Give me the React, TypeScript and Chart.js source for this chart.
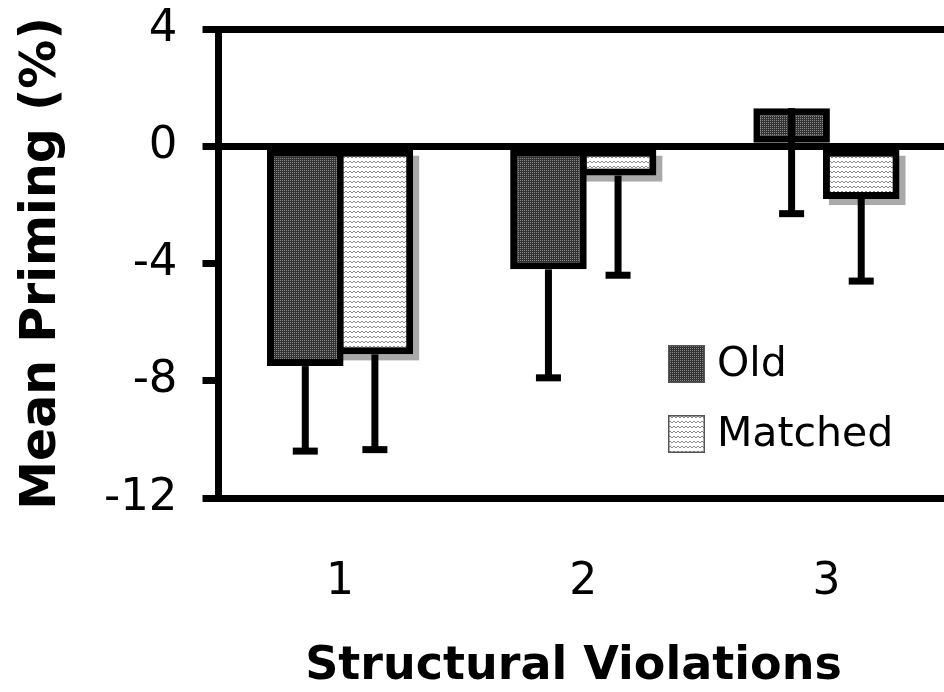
import { useEffect, useRef } from 'react';
import { Chart, registerables } from 'chart.js';

Chart.register(...registerables);

const categories = ['1', '2', '3'];
const seriesNames = ['Old', 'Matched'];
const oldValues = [-7.5, -4.2, 1.3];
const matchedValues = [-7.1, -1.0, -1.8];
const oldErrorLow = [-10.4, -7.9, -2.3];
const matchedErrorLow = [-10.35, -4.4, -4.6];
const yTickValues = [4, 0, -4, -8, -12];
const yLinedValues = [4, 0, -12];
const yTitle = 'Mean Priming (%)';
const xTitle = 'Structural Violations';

const FONT = "'DejaVu Sans', Verdana, sans-serif";

function makeOldPattern(ctx: CanvasRenderingContext2D) {
  const c = document.createElement('canvas');
  c.width = 4;
  c.height = 4;
  const g = c.getContext('2d')!;
  g.fillStyle = '#333333';
  g.fillRect(0, 0, 4, 4);
  g.fillStyle = '#888888';
  g.fillRect(0, 0, 1, 1);
  g.fillRect(2, 0, 1, 1);
  g.fillRect(0, 2, 1, 1);
  g.fillRect(2, 2, 1, 1);
  return ctx.createPattern(c, 'repeat')!;
}

function makeMatchedPattern(ctx: CanvasRenderingContext2D) {
  const c = document.createElement('canvas');
  c.width = 8;
  c.height = 5;
  const g = c.getContext('2d')!;
  g.fillStyle = '#ffffff';
  g.fillRect(0, 0, 8, 5);
  g.strokeStyle = '#8a8a8a';
  g.lineWidth = 1;
  g.beginPath();
  g.moveTo(0, 3);
  g.lineTo(2, 1);
  g.lineTo(4, 3);
  g.lineTo(6, 1);
  g.lineTo(8, 3);
  g.stroke();
  return ctx.createPattern(c, 'repeat')!;
}

export default function App() {
  const ref = useRef<HTMLCanvasElement>(null);

  useEffect(() => {
    const canvas = ref.current!;
    const ctx = canvas.getContext('2d')!;
    const oldPattern = makeOldPattern(ctx);
    const matchedPattern = makeMatchedPattern(ctx);
    const errorLows = [oldErrorLow, matchedErrorLow];
    const patterns = [oldPattern, matchedPattern];

    const shadowPlugin = {
      id: 'shadowPlugin',
      beforeDatasetsDraw(chart: any) {
        const c = chart.ctx;
        const meta = chart.getDatasetMeta(1);
        c.save();
        c.fillStyle = '#a9a9a9';
        meta.data.forEach((bar: any) => {
          const p = bar.getProps(['x', 'y', 'base', 'width'], true);
          const top = Math.min(p.y, p.base);
          const h = Math.abs(p.base - p.y);
          c.fillRect(p.x - p.width / 2 + 6, top + 6, p.width, h);
        });
        c.restore();
      },
    };

    const errorPlugin = {
      id: 'errorPlugin',
      afterDatasetsDraw(chart: any) {
        const c = chart.ctx;
        const ys = chart.scales.y;
        c.save();
        c.fillStyle = '#000';
        chart.data.datasets.forEach((ds: any, di: number) => {
          const meta = chart.getDatasetMeta(di);
          meta.data.forEach((bar: any, i: number) => {
            const x = bar.x;
            const y0 = ys.getPixelForValue(ds.data[i]);
            const y1 = ys.getPixelForValue(errorLows[di][i]);
            c.fillRect(x - 3.5, Math.min(y0, y1), 7, Math.abs(y1 - y0));
            c.fillRect(x - 12.5, y1 - 3.5, 25, 7);
          });
        });
        c.restore();
      },
    };

    const legendPlugin = {
      id: 'customLegend',
      afterDraw(chart: any) {
        const c = chart.ctx;
        const a = chart.chartArea;
        const x0 = a.left + 449.5;
        const y0 = a.top + 316;
        c.save();
        chart.data.datasets.forEach((ds: any, i: number) => {
          const by = y0 + i * 70;
          c.fillStyle = patterns[i];
          c.fillRect(x0, by, 37, 38);
          c.strokeStyle = '#555';
          c.lineWidth = 1.5;
          c.strokeRect(x0 + 0.75, by + 0.75, 35.5, 36.5);
          c.fillStyle = '#000';
          c.font = `41px ${FONT}`;
          c.textAlign = 'left';
          c.textBaseline = 'middle';
          c.fillText(ds.label, x0 + 49, by + 20);
        });
        c.restore();
      },
    };

    const xTitlePlugin = {
      id: 'xTitlePlugin',
      afterDraw(chart: any) {
        const c = chart.ctx;
        const a = chart.chartArea;
        c.save();
        c.fillStyle = '#000';
        c.font = `bold 46px ${FONT}`;
        c.textAlign = 'center';
        c.textBaseline = 'middle';
        c.fillText(xTitle, a.left + 355, 667);
        c.restore();
      },
    };

    const chart = new Chart(canvas, {
      type: 'bar',
      data: {
        labels: categories,
        datasets: [
          {
            label: seriesNames[0],
            data: oldValues,
            backgroundColor: oldPattern,
            borderColor: '#000',
            borderWidth: 7,
            borderSkipped: false,
            categoryPercentage: 0.5725,
            barPercentage: 1.1,
          },
          {
            label: seriesNames[1],
            data: matchedValues,
            backgroundColor: matchedPattern,
            borderColor: '#000',
            borderWidth: 7,
            borderSkipped: false,
            categoryPercentage: 0.5725,
            barPercentage: 1.1,
          },
        ],
      },
      options: {
        responsive: false,
        animation: false,
        devicePixelRatio: 1,
        layout: { padding: { top: 29, left: 0, right: 0, bottom: 0 } },
        plugins: {
          legend: { display: false },
          tooltip: { enabled: false },
        },
        scales: {
          x: {
            grid: { display: false },
            border: { display: false },
            ticks: {
              color: '#000',
              font: { family: FONT, size: 44 },
              padding: 50,
            },
            afterFit(scale: any) {
              scale.height = 194;
              scale.paddingLeft = 0;
              scale.paddingRight = 0;
            },
          },
          y: {
            min: -12,
            max: 4,
            afterBuildTicks(scale: any) {
              scale.ticks = yTickValues.map((v) => ({ value: v }));
            },
            grid: {
              color: (c: any) =>
                c.tick && yLinedValues.includes(c.tick.value) ? '#000' : 'rgba(0,0,0,0)',
              lineWidth: 7,
              tickColor: '#000',
              tickLength: 16,
              tickWidth: 7,
              drawTicks: true,
            },
            border: { display: true, color: '#000', width: 7 },
            ticks: {
              color: '#000',
              font: { family: FONT, size: 45 },
              padding: 25,
            },
            title: {
              display: true,
              text: yTitle,
              color: '#000',
              font: { family: FONT, size: 49, weight: 'bold' },
              padding: { top: 13, bottom: 0 },
            },
            afterFit(scale: any) {
              scale.width = 218.5;
              scale.paddingTop = 0;
              scale.paddingBottom = 0;
            },
          },
        },
      },
      plugins: [shadowPlugin, errorPlugin, legendPlugin, xTitlePlugin],
    } as any);

    return () => chart.destroy();
  }, []);

  return (
    <div
      style={{
        position: 'fixed',
        left: 0,
        top: 0,
        width: 944,
        height: 692,
        overflow: 'hidden',
        background: '#fff',
      }}
    >
      <canvas ref={ref} width={948} height={692} style={{ display: 'block' }} />
    </div>
  );
}
